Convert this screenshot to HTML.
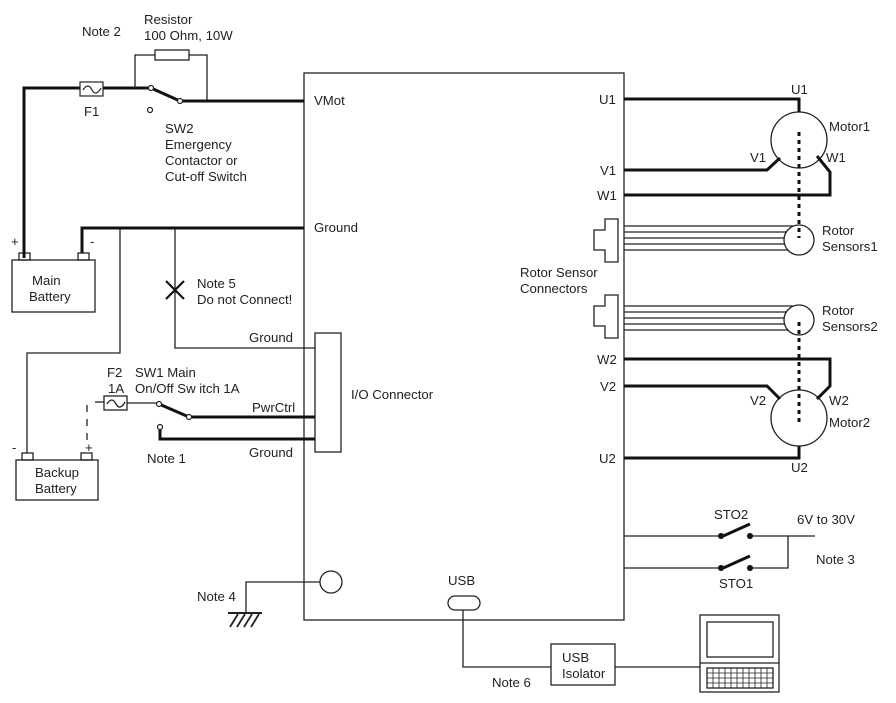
<!DOCTYPE html>
<html><head><meta charset="utf-8"><style>
html,body{margin:0;padding:0;background:#fff;}
svg{display:block;}
text{font-family:"Liberation Sans",Arial,sans-serif;font-size:13.2px;fill:#222;}
</style></head><body>
<svg width="896" height="703" viewBox="0 0 896 703" xmlns="http://www.w3.org/2000/svg">
<g fill="none" stroke="#222" stroke-width="1.3">
<rect x="304" y="73" width="320" height="547"/>
<polyline points="135,88 135,55 207,55 207,101"/>
<rect x="155" y="50" width="34" height="10" fill="#fff"/>
<polyline points="120,228 120,353 27,353 27,453"/>
<polyline points="175,228 175,348 315,348"/>
<rect x="315" y="333" width="26" height="119" fill="#fff"/>
<line x1="95" y1="402" x2="104" y2="402"/>
<rect x="104" y="396" width="23" height="14"/>
<path d="M107,404 q5,-8 9,0 q4,7 9,-2"/>
<line x1="127" y1="403" x2="159" y2="403"/>
<line x1="87" y1="405" x2="87" y2="446" stroke-dasharray="7,7"/>
<rect x="12" y="260" width="83" height="52"/>
<rect x="19" y="253" width="11" height="7"/>
<rect x="78" y="253" width="11" height="7"/>
<rect x="16" y="460" width="82" height="40"/>
<rect x="22" y="453" width="11" height="7"/>
<rect x="81" y="453" width="11" height="7"/>
<polyline points="320,582 246,582 246,613"/>
<circle cx="331" cy="582" r="11" fill="#fff"/>
<line x1="228" y1="613" x2="262" y2="613" stroke-width="2"/>
<path d="M230,627 l8,-13 M237,627 l8,-13 M244,627 l8,-13 M251,627 l8,-13" stroke-width="1.8"/>
<path d="M605,219 H618 V262 H605 V250 H594 V230 H605 Z"/>
<path d="M605,295 H618 V338 H605 V326 H594 V306 H605 Z"/>
<path d="M624,226 H795 M624,232 H788 M624,238 H786 M624,244 H788 M624,250 H795"/>
<path d="M624,306 H795 M624,312 H788 M624,318 H786 M624,324 H788 M624,330 H795"/>
<circle cx="799" cy="240" r="15" fill="#fff"/>
<circle cx="799" cy="320" r="15" fill="#fff"/>
<circle cx="799" cy="140" r="28"/>
<circle cx="799" cy="418" r="28"/>
<line x1="624" y1="536" x2="721" y2="536"/>
<line x1="624" y1="568" x2="721" y2="568"/>
<polyline points="751,536 815,536"/>
<polyline points="751,568 788,568 788,536"/>
<rect x="448" y="596" width="32" height="14" rx="7"/>
<polyline points="463,610 463,667 551,667"/>
<rect x="551" y="644" width="64" height="41"/>
<line x1="615" y1="667" x2="700" y2="667"/>
<rect x="700" y="615" width="79" height="77"/>
<rect x="707" y="622" width="66" height="35"/>
<line x1="700" y1="663" x2="779" y2="663"/>
<rect x="707" y="668" width="66" height="20"/>
<path d="M707,673 H773 M707,678 H773 M707,683 H773 M713,668 V688 M719,668 V688 M725,668 V688 M731,668 V688 M737,668 V688 M743,668 V688 M749,668 V688 M755,668 V688 M761,668 V688 M767,668 V688" stroke-width="0.8"/>
</g>
<g fill="none" stroke="#111" stroke-width="3">
<polyline points="24,258 24,88 80,88"/>
<polyline points="103,88 151,88"/>
<line x1="151" y1="88" x2="180" y2="101"/>
<line x1="180" y1="101" x2="304" y2="101"/>
<polyline points="82,253 82,228 304,228"/>
<line x1="159" y1="404" x2="189" y2="417"/>
<line x1="189" y1="417" x2="315" y2="417"/>
<polyline points="160,427 160,439 315,439"/>
<polyline points="624,99 799,99 799,112"/>
<polyline points="624,170 767,170 780,158"/>
<polyline points="624,195 830,195 830,172 817,156"/>
<polyline points="624,359 830,359 830,386 817,399"/>
<polyline points="624,386 767,386 780,399"/>
<polyline points="624,458 799,458 799,446"/>
<line x1="721" y1="537" x2="750" y2="524"/>
<line x1="721" y1="569" x2="750" y2="556"/>
<line x1="799" y1="132" x2="799" y2="238" stroke-dasharray="4,4"/>
<line x1="799" y1="322" x2="799" y2="425" stroke-dasharray="4,4"/>
<path d="M166,281 L184,299 M184,281 L166,299" stroke-width="2.2"/>
</g>
<g stroke="#222" stroke-width="1.2">
<rect x="80" y="82" width="23" height="14" fill="#fff"/>
<path d="M83,90 q5,-8 9,0 q4,7 9,-2" fill="none"/>
<circle cx="151" cy="88" r="2.5" fill="#fff"/>
<circle cx="180" cy="101" r="2.5" fill="#fff"/>
<circle cx="150" cy="110" r="2.5" fill="#fff"/>
<circle cx="159" cy="404" r="2.5" fill="#fff"/>
<circle cx="189" cy="417" r="2.5" fill="#fff"/>
<circle cx="160" cy="427" r="2.5" fill="#fff"/>
<circle cx="721" cy="536" r="2.5" fill="#111"/>
<circle cx="750" cy="536" r="2.5" fill="#111"/>
<circle cx="721" cy="568" r="2.5" fill="#111"/>
<circle cx="750" cy="568" r="2.5" fill="#111"/>
</g>
<text x="82" y="36">Note 2</text>
<text x="144" y="24">Resistor</text>
<text x="144" y="40">100 Ohm, 10W</text>
<text x="84" y="116">F1</text>
<text x="165" y="133">SW2</text>
<text x="165" y="149">Emergency</text>
<text x="165" y="165">Contactor or</text>
<text x="165" y="181">Cut-off Switch</text>
<text x="11" y="246">+</text>
<text x="90" y="246">-</text>
<text x="32" y="285">Main</text>
<text x="29" y="301">Battery</text>
<text x="197" y="288">Note 5</text>
<text x="197" y="304">Do not Connect!</text>
<text x="314" y="105">VMot</text>
<text x="314" y="232">Ground</text>
<text x="249" y="342">Ground</text>
<text x="252" y="412">PwrCtrl</text>
<text x="249" y="457">Ground</text>
<text x="351" y="399">I/O Connector</text>
<text x="107" y="377">F2</text>
<text x="108" y="393">1A</text>
<text x="135" y="377">SW1 Main</text>
<text x="135" y="393">On/Off Sw itch 1A</text>
<text x="147" y="463">Note 1</text>
<text x="12" y="452">-</text>
<text x="85" y="452">+</text>
<text x="35" y="477">Backup</text>
<text x="35" y="493">Battery</text>
<text x="197" y="601">Note 4</text>
<text x="448" y="585">USB</text>
<text x="492" y="687">Note 6</text>
<text x="562" y="662">USB</text>
<text x="562" y="678">Isolator</text>
<text x="714" y="519">STO2</text>
<text x="719" y="588">STO1</text>
<text x="797" y="524">6V to 30V</text>
<text x="816" y="564">Note 3</text>
<text x="599" y="104">U1</text>
<text x="600" y="175">V1</text>
<text x="597" y="200">W1</text>
<text x="597" y="364">W2</text>
<text x="600" y="391">V2</text>
<text x="599" y="463">U2</text>
<text x="791" y="94">U1</text>
<text x="829" y="131">Motor1</text>
<text x="750" y="162">V1</text>
<text x="826" y="162">W1</text>
<text x="822" y="235">Rotor</text>
<text x="822" y="251">Sensors1</text>
<text x="822" y="315">Rotor</text>
<text x="822" y="331">Sensors2</text>
<text x="520" y="277">Rotor Sensor</text>
<text x="520" y="293">Connectors</text>
<text x="750" y="405">V2</text>
<text x="829" y="405">W2</text>
<text x="829" y="427">Motor2</text>
<text x="791" y="472">U2</text>
</svg>
</body></html>
